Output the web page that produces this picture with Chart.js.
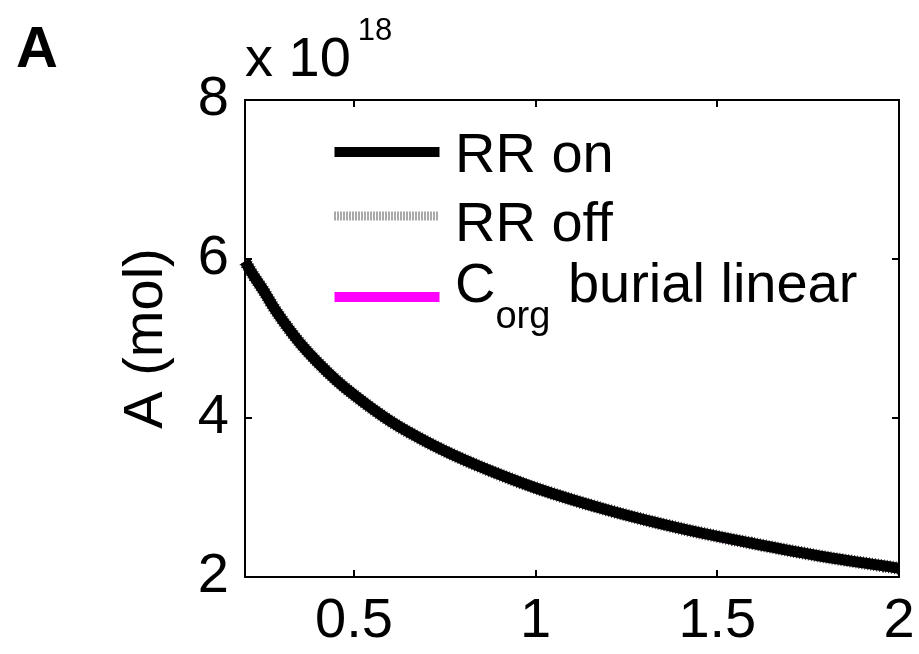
<!DOCTYPE html>
<html>
<head>
<meta charset="utf-8">
<title>A (mol)</title>
<script src="https://cdn.jsdelivr.net/npm/chart.js@4.4.1/dist/chart.umd.min.js"></script>
<style>
  html, body { margin: 0; padding: 0; background: #fff; }
  #wrap { width: 919px; height: 654px; position: relative; }
</style>
</head>
<body>
<div id="wrap"><canvas id="chart"></canvas></div>
<script>
// time axis (x) and inventory A in units of 10^18 mol
const timeX = [0.2, 0.225, 0.25, 0.275, 0.3, 0.35, 0.4, 0.45, 0.5, 0.6, 0.7, 0.8, 0.9, 1.0, 1.2, 1.4, 1.6, 1.8, 2.0];
const rrOn  = [5.97, 5.78, 5.61, 5.42, 5.25, 4.95, 4.70, 4.48, 4.29, 3.96, 3.70, 3.48, 3.29, 3.12, 2.84, 2.61, 2.42, 2.25, 2.11];
const rrOff = [5.97, 5.78, 5.61, 5.42, 5.25, 4.95, 4.70, 4.48, 4.29, 3.96, 3.70, 3.48, 3.29, 3.12, 2.84, 2.61, 2.42, 2.25, 2.11];
const corgLinear = [5.97, 5.78, 5.61, 5.42, 5.25, 4.95, 4.70, 4.48, 4.29, 3.96, 3.70, 3.48, 3.29, 3.12, 2.84, 2.61, 2.42, 2.25, 2.11];

const xTicks = [0.5, 1, 1.5, 2];
const yTicks = [2, 4, 6, 8];
const yExponent = '18';

const FONT = 'Liberation Sans, Arial, sans-serif';
const SIZE = 56;

function toPoints(ys) {
  return ys.map((y, i) => ({ x: timeX[i], y: y }));
}

// box around the axes with inward tick marks on all four sides
const boxPlugin = {
  id: 'box',
  afterDraw(chart) {
    const { ctx, chartArea: a, scales } = chart;
    ctx.save();
    ctx.strokeStyle = '#000';
    ctx.lineWidth = 2;
    ctx.strokeRect(a.left, a.top, a.right - a.left, a.bottom - a.top);
    const len = 7;
    ctx.beginPath();
    xTicks.forEach(v => {
      const px = Math.round(scales.x.getPixelForValue(v));
      ctx.moveTo(px, a.bottom); ctx.lineTo(px, a.bottom - len);
      ctx.moveTo(px, a.top); ctx.lineTo(px, a.top + len);
    });
    yTicks.forEach(v => {
      const py = Math.round(scales.y.getPixelForValue(v));
      ctx.moveTo(a.left, py); ctx.lineTo(a.left + len, py);
      ctx.moveTo(a.right, py); ctx.lineTo(a.right - len, py);
    });
    ctx.stroke();

    // exponent label above the y axis
    ctx.fillStyle = '#000';
    ctx.textBaseline = 'alphabetic';
    ctx.textAlign = 'left';
    ctx.font = SIZE + 'px ' + FONT;
    ctx.fillText('x 10', a.left, 76);
    const w = ctx.measureText('x 10').width;
    ctx.font = '31px ' + FONT;
    ctx.fillText(yExponent, a.left + w + 7, 40);

    // panel letter
    ctx.font = 'bold 58px ' + FONT;
    ctx.fillText('A', 16, 67);
    ctx.restore();
  }
};

// legend drawn inside the axes, no frame
const legendPlugin = {
  id: 'insideLegend',
  afterDraw(chart) {
    const { ctx } = chart;
    const ds = chart.data.datasets;
    const rows = [
      { d: ds[0], y: 152, base: 172 },
      { d: ds[1], y: 216, base: 241 },
      { d: ds[2], y: 297, base: 302 }
    ];
    ctx.save();
    rows.forEach(r => {
      ctx.beginPath();
      ctx.strokeStyle = r.d.legendColor || r.d.borderColor;
      ctx.lineWidth = r.d.legendWidth;
      ctx.setLineDash(r.d.legendDash || []);
      ctx.lineCap = 'butt';
      ctx.moveTo(334.5, r.y);
      ctx.lineTo(439.5, r.y);
      ctx.stroke();
      ctx.setLineDash([]);
      ctx.fillStyle = '#000';
      ctx.textAlign = 'left';
      ctx.textBaseline = 'alphabetic';
      ctx.font = SIZE + 'px ' + FONT;
      if (r.d.sub) {
        ctx.fillText(r.d.label[0], 455, r.base);
        let x = 455 + ctx.measureText(r.d.label[0]).width;
        ctx.font = '38px ' + FONT;
        ctx.fillText(r.d.sub, x, r.base + 26);
        x += ctx.measureText(r.d.sub).width;
        ctx.font = SIZE + 'px ' + FONT;
        ctx.fillText(r.d.label.slice(1), x + 2, r.base);
      } else {
        ctx.fillText(r.d.label, 455, r.base);
      }
    });
    ctx.restore();
  }
};

new Chart(document.getElementById('chart'), {
  type: 'line',
  data: {
    datasets: [
      {
        label: 'RR on',
        data: toPoints(rrOn),
        order: 0,
        borderColor: '#000',
        borderWidth: 11,
        legendWidth: 10,
        borderCapStyle: 'butt',
        pointRadius: 0,
        cubicInterpolationMode: 'monotone',
        clip: false
      },
      {
        label: 'RR off',
        data: toPoints(rrOff),
        order: 1,
        borderColor: '#333',
        legendColor: '#555',
        borderWidth: 13,
        legendWidth: 9,
        borderDash: [1, 2],
        legendDash: [1, 2],
        borderCapStyle: 'butt',
        pointRadius: 0,
        cubicInterpolationMode: 'monotone',
        clip: false
      },
      {
        label: 'C burial linear',
        sub: 'org',
        data: toPoints(corgLinear),
        order: 2,
        borderColor: '#ff00ff',
        borderWidth: 10,
        legendWidth: 10,
        borderCapStyle: 'butt',
        pointRadius: 0,
        cubicInterpolationMode: 'monotone',
        clip: false
      }
    ]
  },
  options: {
    responsive: true,
    maintainAspectRatio: false,
    animation: false,
    layout: { padding: { top: 100, right: 20, left: 0, bottom: 0 } },
    plugins: {
      legend: { display: false },
      tooltip: { enabled: false }
    },
    scales: {
      x: {
        type: 'linear',
        min: 0.2,
        max: 2,
        afterBuildTicks: s => { s.ticks = xTicks.map(v => ({ value: v })); },
        afterFit: s => { s.height = 77; s.paddingLeft = 0; s.paddingRight = 0; },
        grid: { display: false, drawTicks: false },
        border: { display: false },
        ticks: {
          color: '#000',
          padding: 11,
          maxRotation: 0,
          font: { family: FONT, size: SIZE },
          callback: v => String(v)
        }
      },
      y: {
        type: 'linear',
        min: 2,
        max: 8,
        afterBuildTicks: s => { s.ticks = yTicks.map(v => ({ value: v })); },
        afterFit: s => { s.width = 245; s.paddingTop = 0; s.paddingBottom = 0; },
        grid: { display: false, drawTicks: false },
        border: { display: false },
        ticks: {
          color: '#000',
          padding: 16,
          font: { family: FONT, size: SIZE },
          callback: v => String(v)
        },
        title: {
          display: true,
          text: 'A (mol)',
          color: '#000',
          padding: { top: 113, bottom: 0 },
          font: { family: FONT, size: SIZE }
        }
      }
    }
  },
  plugins: [boxPlugin, legendPlugin]
});
</script>
</body>
</html>
